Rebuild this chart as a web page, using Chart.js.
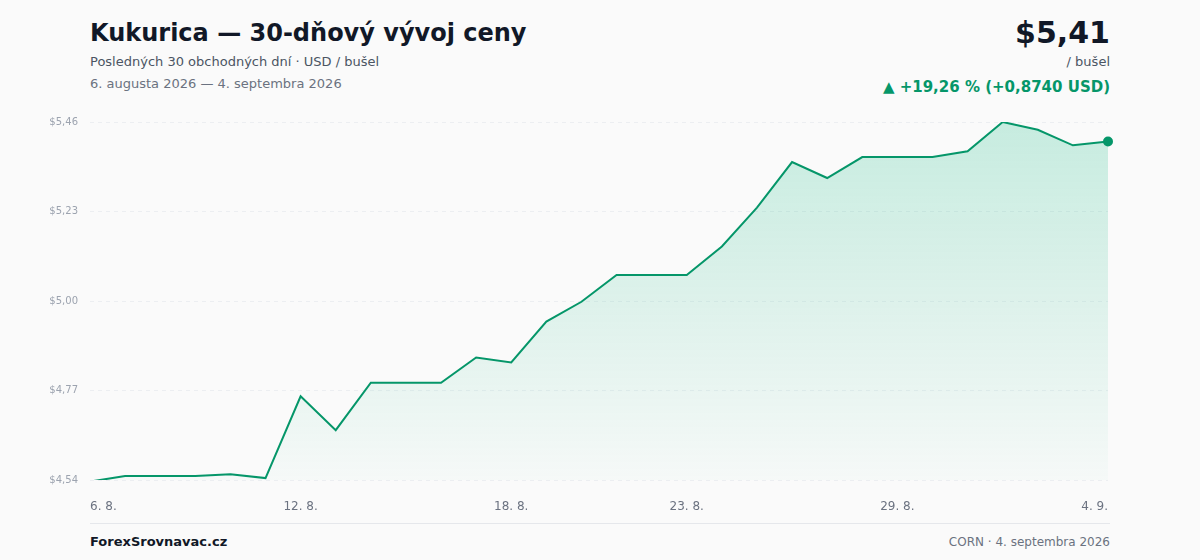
<!DOCTYPE html>
<html><head><meta charset="utf-8">
<script src="https://cdn.jsdelivr.net/npm/chart.js@4/dist/chart.umd.min.js"></script>
<style>
body{margin:0;width:1200px;height:560px;background:#fafafa;font-family:"DejaVu Sans",sans-serif;position:relative;overflow:hidden}
.t{position:absolute;white-space:nowrap}
</style></head><body>
<div class="t" style="left:90px;top:19px;font-size:24px;font-weight:bold;color:#111827">Kukurica — 30-dňový vývoj ceny</div>
<div class="t" style="left:90px;top:54px;font-size:13px;color:#4b5563">Posledných 30 obchodných dní · USD / bušel</div>
<div class="t" style="left:90px;top:76px;font-size:13px;color:#6b7280">6. augusta 2026 — 4. septembra 2026</div>
<div class="t" style="right:90px;top:15px;font-size:30px;font-weight:bold;color:#111827">$5,41</div>
<div class="t" style="right:90px;top:54px;font-size:13px;color:#4b5563">/ bušel</div>
<div class="t" style="right:90px;top:78px;font-size:15px;font-weight:bold;color:#059669">▲ +19,26 % (+0,8740 USD)</div>
<div style="position:absolute;left:90px;width:1020px;top:523px;height:1px;background:#e5e7eb"></div>
<div class="t" style="left:90px;top:534px;font-size:13px;font-weight:bold;color:#111827">ForexSrovnavac.cz</div>
<div class="t" style="right:90px;top:535px;font-size:12px;color:#6b7280">CORN · 4. septembra 2026</div>
<div style="position:absolute;left:40px;top:104px;width:1080px;height:406px"><canvas id="c"></canvas></div>
<script>
const labels=["6. 8.","7. 8.","8. 8.","9. 8.","10. 8.","11. 8.","12. 8.","13. 8.","14. 8.","15. 8.","16. 8.","17. 8.","18. 8.","19. 8.","20. 8.","21. 8.","22. 8.","23. 8.","24. 8.","25. 8.","26. 8.","27. 8.","28. 8.","29. 8.","30. 8.","31. 8.","1. 9.","2. 9.","3. 9.","4. 9."];
const shownIdx=[0,6,12,17,23,29];
const prices=[4.536,4.55,4.55,4.55,4.555,4.545,4.755,4.668,4.79,4.79,4.79,4.855,4.842,4.947,4.998,5.067,5.067,5.067,5.14,5.24,5.357,5.316,5.37,5.37,5.37,5.385,5.46,5.44,5.40,5.41];
const yTicks=[4.54,4.77,5.00,5.23,5.46];
const ctx=document.getElementById('c').getContext('2d');
new Chart(ctx,{type:'line',data:{labels,datasets:[{data:prices,borderColor:'#059669',borderWidth:2,tension:0,
fill:true,backgroundColor:(c)=>{const a=c.chart.chartArea;if(!a)return 'rgba(5,150,105,0.1)';const g=c.chart.ctx.createLinearGradient(0,a.top,0,a.bottom);g.addColorStop(0,'rgba(16,185,129,0.22)');g.addColorStop(1,'rgba(16,185,129,0.02)');return g;},
pointRadius:prices.map((v,i)=>i===prices.length-1?5:0),pointBackgroundColor:'#059669',pointBorderColor:'#059669',pointBorderWidth:0}]},
options:{responsive:true,maintainAspectRatio:false,animation:false,layout:{padding:{top:16,right:10,left:0,bottom:0}},
plugins:{legend:{display:false},tooltip:{enabled:false}},
scales:{x:{grid:{display:false},border:{display:false},afterFit:s=>{s.height=30},
ticks:{autoSkip:false,maxRotation:0,align:'inner',padding:12,color:'#6b7280',font:{family:'DejaVu Sans',size:12},callback:(v,i)=>shownIdx.includes(i)?labels[i]:''}},
y:{min:4.54,max:5.46,border:{display:false,dash:[4,4]},afterFit:s=>{s.width=50},afterBuildTicks:s=>{s.ticks=yTicks.map(v=>({value:v}))},
grid:{color:'#eceef1',drawTicks:false},
ticks:{padding:12,color:'#9ca3af',font:{family:'DejaVu Sans',size:10},callback:v=>'$'+v.toFixed(2).replace('.',',')}}}}});
</script></body></html>
